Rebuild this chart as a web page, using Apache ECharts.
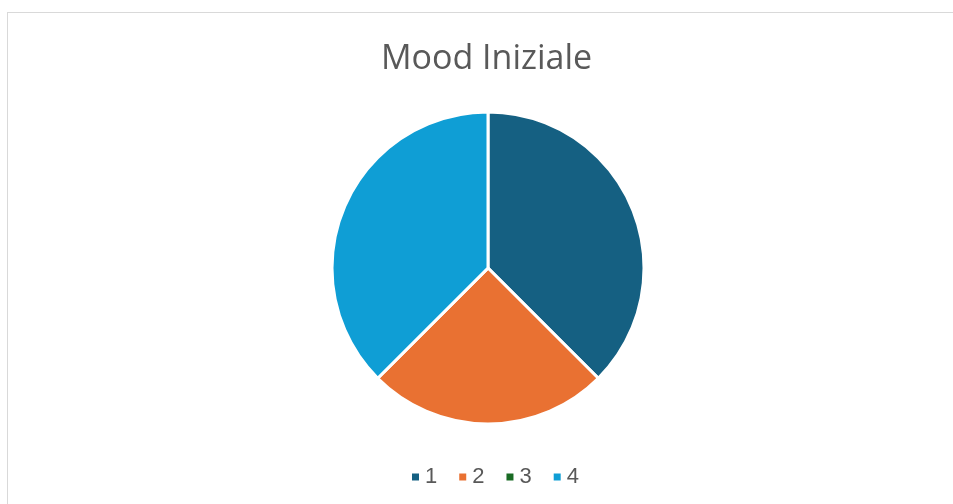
<!DOCTYPE html>
<html>
<head>
<meta charset="utf-8">
<script src="https://cdn.jsdelivr.net/npm/echarts@6/dist/echarts.min.js"></script>
<style>
html,body{margin:0;padding:0;background:#fff;}
#frame{position:absolute;left:7px;top:12px;width:960px;height:520px;border:1.5px solid #d9d9d9;box-sizing:border-box;}
#chart{position:absolute;left:0;top:0;width:953px;height:504px;}
</style>
</head>
<body>
<div id="frame"></div>
<div id="chart"></div>
<script>
const title = "Mood Iniziale";
const categories = ["1", "2", "3", "4"];
const values = [3, 2, 0, 3];
const colors = ["#156082", "#E97132", "#196B24", "#0F9ED5"];

const chart = echarts.init(document.getElementById('chart'), null, {renderer: 'canvas'});
chart.setOption({
  animation: false,
  title: {
    text: title,
    left: 376,
    top: 37,
    textStyle: {fontFamily: 'Open Sans', fontSize: 34, fontWeight: 'normal', color: '#595959'}
  },
  legend: {
    top: 461,
    left: 405,
    icon: 'rect',
    itemWidth: 9,
    itemHeight: 9,
    itemGap: 20,
    textStyle: {fontFamily: 'Liberation Sans', fontSize: 22, color: '#595959'},
    data: categories
  },
  color: colors,
  series: [{
    type: 'pie',
    center: [488, 268],
    radius: [0, 156],
    startAngle: 90,
    clockwise: true,
    label: {show: false},
    labelLine: {show: false},
    itemStyle: {borderColor: '#fff', borderWidth: 3},
    emphasis: {disabled: true},
    data: categories.map((c, i) => ({name: c, value: values[i]}))
  }]
});
</script>
</body>
</html>
